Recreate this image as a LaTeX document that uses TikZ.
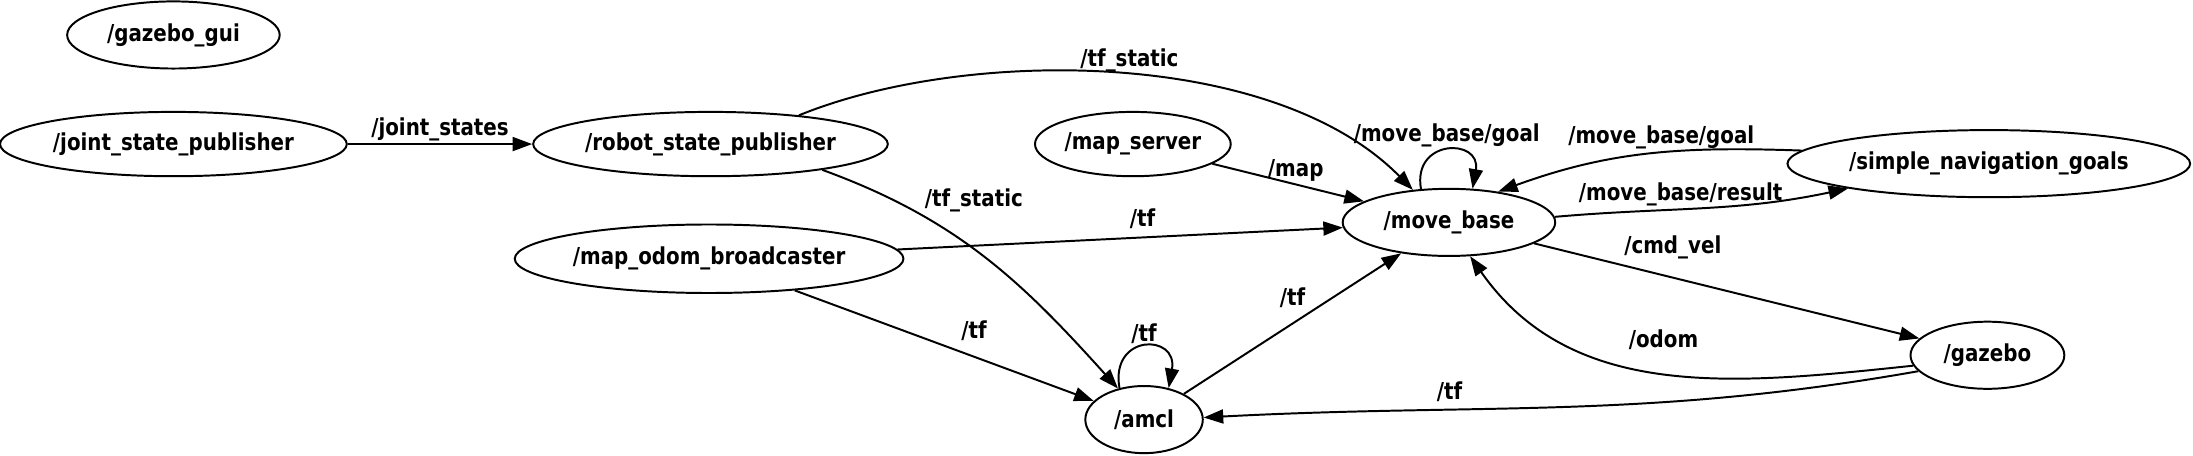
\documentclass[tikz,border=0pt]{standalone}
\usepackage{fontspec}
\setmainfont{DejaVu Sans}[FakeStretch=0.85]
\usetikzlibrary{arrows.meta,shapes.geometric}
\tikzset{
  rosnode/.style={ellipse,draw=black,line width=0.8pt,inner sep=0pt,
    font=\bfseries\fontsize{9.5}{11}\selectfont},
  topic/.style={inner sep=1pt,font=\bfseries\fontsize{9.5}{11}\selectfont},
  link/.style={-{Triangle[length=0.28cm,width=0.2cm]},line width=0.8pt,black}
}

\begin{document}
\begin{tikzpicture}[x=0.02cm,y=0.02cm]
\useasboundingbox (0,0) rectangle (1568,326);

% nodes
\node[rosnode,minimum width=3.04cm,minimum height=0.96cm] (gazeboGui) at (124,301) {/gazebo\_gui};
\node[rosnode,minimum width=4.96cm,minimum height=0.92cm] (jointPub) at (124,223) {/joint\_state\_publisher};
\node[rosnode,minimum width=5.04cm,minimum height=0.92cm] (robotPub) at (508,223) {/robot\_state\_publisher};
\node[rosnode,minimum width=2.8cm,minimum height=0.92cm] (mapServer) at (810,223) {/map\_server};
\node[rosnode,minimum width=3.04cm,minimum height=0.96cm] (moveBase) at (1036,167) {/move\_base};
\node[rosnode,minimum width=5.76cm,minimum height=0.96cm] (navGoals) at (1422,209) {/simple\_navigation\_goals};
\node[rosnode,minimum width=5.56cm,minimum height=0.98cm] (mapOdom) at (507,141) {/map\_odom\_broadcaster};
\node[rosnode,minimum width=1.68cm,minimum height=0.96cm] (amcl) at (818,26) {/amcl};
\node[rosnode,minimum width=2.2cm,minimum height=0.96cm] (gazebo) at (1421,72) {/gazebo};

% topics
\draw[link] (jointPub) -- node[topic,above] {/joint\_states} (robotPub);
\draw[link] (robotPub.18) .. controls (690,292) and (910,292) .. node[topic,above,pos=0.52] {/tf\_static} (moveBase.138);
\draw[link] (robotPub.-13) to[out=-20,in=132] node[topic,pos=0.28,anchor=south west] {/tf\_static} (amcl.130);
\draw[link] (mapServer) -- node[topic,above,pos=0.55] {/map} (moveBase);
\draw[link] (mapOdom) -- node[topic,above=2pt,pos=0.55] {/tf} (moveBase);
\draw[link] (mapOdom) -- node[topic,above=5pt,pos=0.6] {/tf} (amcl);
\draw[link] (amcl.128) to[out=100,in=80,looseness=2.9] node[topic,above] {/tf} (amcl.52);
\draw[link] (amcl) -- node[topic,above=5pt] {/tf} (moveBase);
\draw[link] (moveBase.130) to[out=100,in=80,looseness=2.55] node[topic,above] {/move\_base/goal} (moveBase.55);
\draw[link] (navGoals.176) to[out=178,in=20] node[topic,above,pos=0.45] {/move\_base/goal} (moveBase.32);
\draw[link] (moveBase.3) to[out=5,in=192] node[topic,above,pos=0.42] {/move\_base/result} (navGoals.190);
\draw[link] (moveBase) -- node[topic,above=6pt,pos=0.36] {/cmd\_vel} (gazebo);
\draw[link] (gazebo.188) to[out=186,in=-55] node[topic,above=8pt,pos=0.5] {/odom} (moveBase.-58);
\draw[link] (gazebo.193) to[out=190,in=3] node[topic,above=2pt,pos=0.67] {/tf} (amcl.2);

\end{tikzpicture}
\end{document}
